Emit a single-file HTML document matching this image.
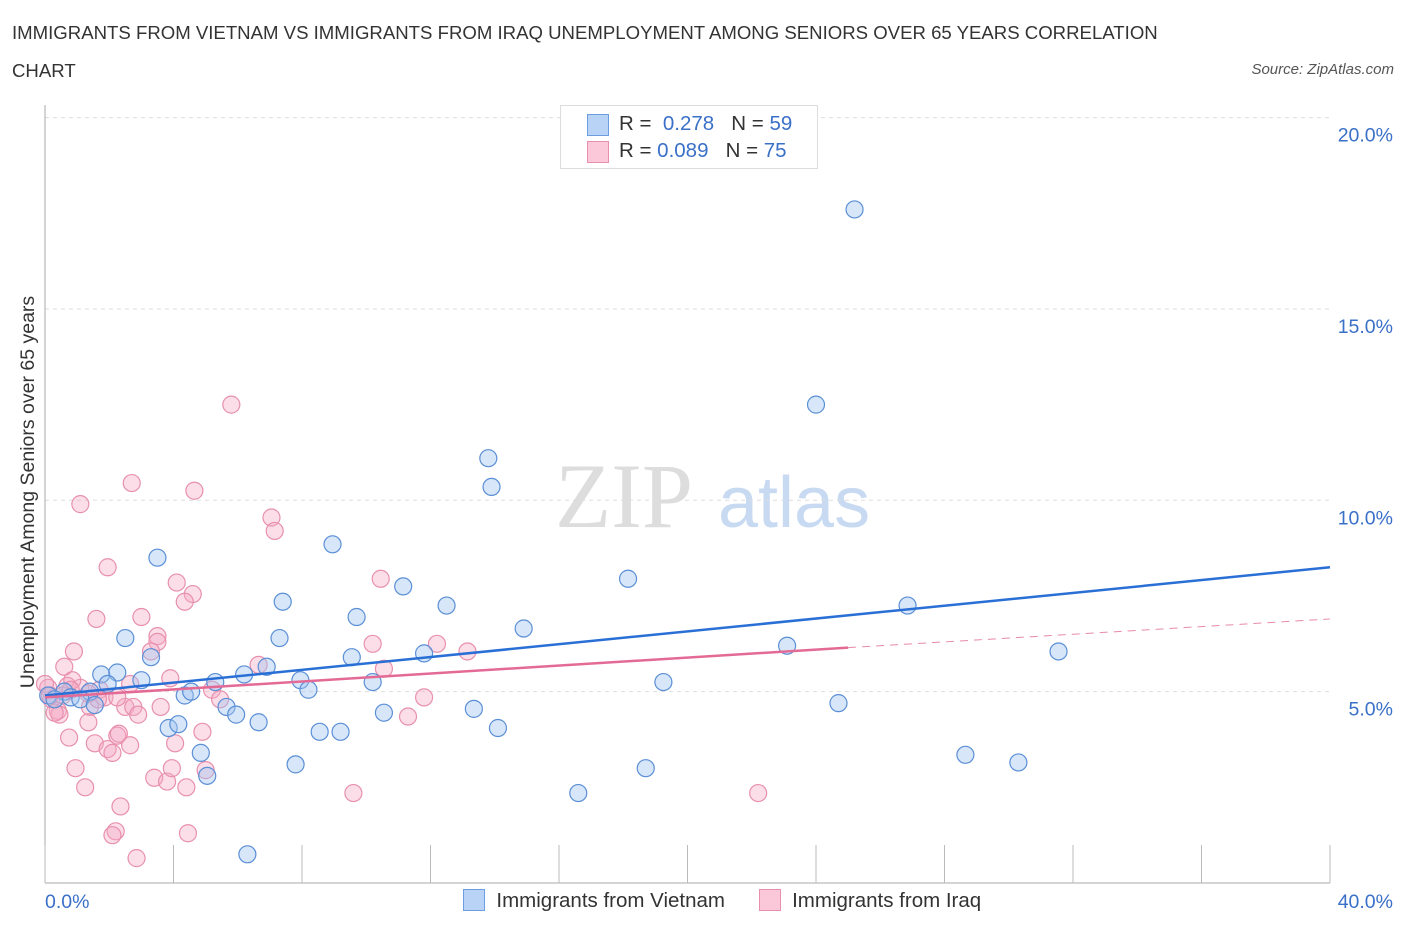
<!DOCTYPE html>
<html><head><meta charset="utf-8"><style>
body{margin:0;background:#fff;font-family:"Liberation Sans",sans-serif;}
#wrap{position:relative;width:1406px;height:930px;overflow:hidden}
.t{position:absolute;color:#333;font-size:18.6px}
</style></head><body>
<div id="wrap">
<div class="t" style="left:12px;top:22px">IMMIGRANTS FROM VIETNAM VS IMMIGRANTS FROM IRAQ UNEMPLOYMENT AMONG SENIORS OVER 65 YEARS CORRELATION</div>
<div class="t" style="left:12px;top:60px">CHART</div>
<div class="t" style="right:12px;top:61px;font-size:15px;font-style:italic;color:#555">Source: ZipAtlas.com</div>
<svg id="svg" width="1406" height="930" style="position:absolute;left:0;top:0"></svg>
</div>
<script>
const xTicks=[0,40];
const yTicks=[5,10,15,20];
const blueX=[25.2,24.0,13.8,13.9,8.95,3.5,18.15,11.15,7.4,12.5,26.85,9.7,14.9,2.5,7.3,23.1,31.55,3.3,9.55,11.8,1.75,2.25,6.2,6.9,1.95,3.0,5.3,7.95,10.2,19.25,0.1,0.6,1.4,4.35,4.55,8.2,24.7,5.65,5.95,13.35,10.55,3.85,4.15,6.65,14.1,8.55,9.2,4.85,28.65,30.3,7.8,5.05,18.7,16.6,6.3,0.3,0.8,1.1,1.55];
const blueY=[17.6,12.5,11.1,10.35,8.85,8.5,7.95,7.75,7.35,7.25,7.25,6.95,6.65,6.4,6.4,6.2,6.05,5.9,5.9,6.0,5.45,5.5,5.45,5.65,5.2,5.3,5.25,5.3,5.25,5.25,4.9,5.0,5.0,4.9,5.0,5.05,4.7,4.6,4.4,4.55,4.45,4.05,4.15,4.2,4.05,3.95,3.95,3.4,3.35,3.15,3.1,2.8,3.0,2.35,0.75,4.8,4.85,4.8,4.65];
const pinkX=[5.8,2.7,4.65,1.1,7.05,7.15,1.95,10.45,4.1,4.6,4.35,1.6,3.0,3.5,3.5,3.3,10.2,12.2,0.9,13.15,0.6,6.65,10.55,3.9,0.7,1.1,1.7,1.85,2.65,5.2,5.45,0.1,0.2,0.4,0.45,1.4,2.5,2.75,2.9,3.6,11.8,11.3,1.35,0.75,2.25,2.3,1.55,1.95,2.65,2.1,4.05,4.9,3.4,3.8,3.95,0.95,1.25,4.4,5.0,9.6,22.2,2.35,2.2,2.1,4.45,2.85,0.3,0.55,0.85,1.65,2.25,0.8,0,0.15,1.35];
const pinkY=[12.5,10.45,10.25,9.9,9.55,9.2,8.25,7.95,7.85,7.55,7.35,6.9,6.95,6.45,6.3,6.05,6.25,6.25,6.05,6.05,5.65,5.7,5.6,5.35,5.15,5.1,5.05,4.85,5.2,5.05,4.8,5.1,4.8,4.5,4.4,4.6,4.6,4.6,4.4,4.6,4.85,4.35,4.2,3.8,3.85,3.9,3.65,3.5,3.6,3.4,3.65,3.95,2.75,2.65,3.0,3.0,2.5,2.5,2.95,2.35,2.35,2.0,1.35,1.25,1.3,0.65,4.45,4.9,5.3,4.8,4.85,5.05,5.2,4.9,4.95];
const blueTrend=[4.9,8.25];
const pinkTrend=[4.85,6.15,6.9];
const X=v=>45+v*32.125, Y=v=>883-v*38.27;
const svg=document.getElementById('svg');
const NS='http://www.w3.org/2000/svg';
function mk(t,a,p){const e=document.createElementNS(NS,t);for(const k in a)e.setAttribute(k,a[k]);(p||svg).appendChild(e);return e;}
let w=mk('text',{x:555,y:527,'font-size':92,'font-family':'Liberation Serif',fill:'#ddd'});w.textContent='ZIP';


let w2=mk('text',{x:718,y:527,'font-size':72,'font-family':'Liberation Sans',fill:'#c8daf2'});w2.textContent='atlas';


yTicks.forEach(v=>{
 const l=mk('line',{x1:45,x2:1330,y1:Y(v),y2:Y(v),stroke:'#ddd','stroke-dasharray':'4,4'});
 
 
 const t=mk('text',{x:1393,y:Y(v)+24,'text-anchor':'end','font-size':19.5,fill:'#3a70c8'});t.textContent=v.toFixed(1)+'%';
 
 
});
const ya=mk('line',{x1:45,x2:45,y1:105,y2:883,stroke:'#aaa'});


const xa=mk('line',{x1:45,x2:1330,y1:883,y2:883,stroke:'#aaa'});


for(let i=0;i<=10;i++){const l=mk('line',{x1:X(i*4),x2:X(i*4),y1:845,y2:883,stroke:'#bbb'});
 
 }
xTicks.forEach((v,i)=>{const t=mk('text',{x:i?1393:45,y:908,'text-anchor':i?'end':'start','font-size':19.5,fill:'#3a70c8'});t.textContent=v.toFixed(1)+'%';
 
 });
const yt=mk('text',{x:34,y:492,'text-anchor':'middle','font-size':19.5,fill:'#333',transform:'rotate(-90 34 492)'});yt.textContent='Unemployment Among Seniors over 65 years';


pinkX.forEach((x,i)=>{const c=mk('circle',{cx:X(x),cy:Y(pinkY[i]),r:8.5,fill:'rgba(245,168,195,0.38)',stroke:'#e890ad','stroke-width':1.2});
 
 });
blueX.forEach((x,i)=>{const c=mk('circle',{cx:X(x),cy:Y(blueY[i]),r:8.5,fill:'rgba(160,196,240,0.42)',stroke:'#5b8fd6','stroke-width':1.2});
 
 });
const bl=mk('line',{x1:X(0),y1:Y(blueTrend[0]),x2:X(40),y2:Y(blueTrend[1]),stroke:'#2a6fd6','stroke-width':2.5});


const pl=mk('line',{x1:X(0),y1:Y(pinkTrend[0]),x2:X(25),y2:Y(pinkTrend[1]),stroke:'#e46a96','stroke-width':2.5});


const pd=mk('line',{x1:X(25),y1:Y(pinkTrend[1]),x2:X(40),y2:Y(pinkTrend[2]),stroke:'#e88aa8','stroke-width':1,'stroke-dasharray':'8,6'});


</script>
<div style="position:absolute;left:560px;top:105px;width:256px;height:62px;border:1px solid #ddd;background:#fff;font-size:20.5px;color:#333">
 <div style="position:absolute;left:26px;top:8px;width:20px;height:20px;background:#b8d3f5;border:1px solid #6a9ee0"></div>
 <div style="position:absolute;left:58px;top:6px">R = <span style="color:#3a70c8">&nbsp;0.278</span>&nbsp;&nbsp;&nbsp;N = <span style="color:#3a70c8">59</span></div>
 <div style="position:absolute;left:26px;top:35px;width:20px;height:20px;background:#fac8d8;border:1px solid #e890ad"></div>
 <div style="position:absolute;left:58px;top:33px">R = <span style="color:#3a70c8">0.089</span>&nbsp;&nbsp;&nbsp;N = <span style="color:#3a70c8">75</span></div>
</div>
<div style="position:absolute;left:463px;top:889px;font-size:20.5px;color:#333;white-space:nowrap">
 <span style="display:inline-block;width:20px;height:20px;background:#b8d3f5;border:1px solid #6a9ee0;vertical-align:-4px"></span>&nbsp; Immigrants from Vietnam
 <span style="display:inline-block;width:20px;height:20px;background:#fac8d8;border:1px solid #e890ad;vertical-align:-4px;margin-left:28px"></span>&nbsp; Immigrants from Iraq
</div>
</body></html>
